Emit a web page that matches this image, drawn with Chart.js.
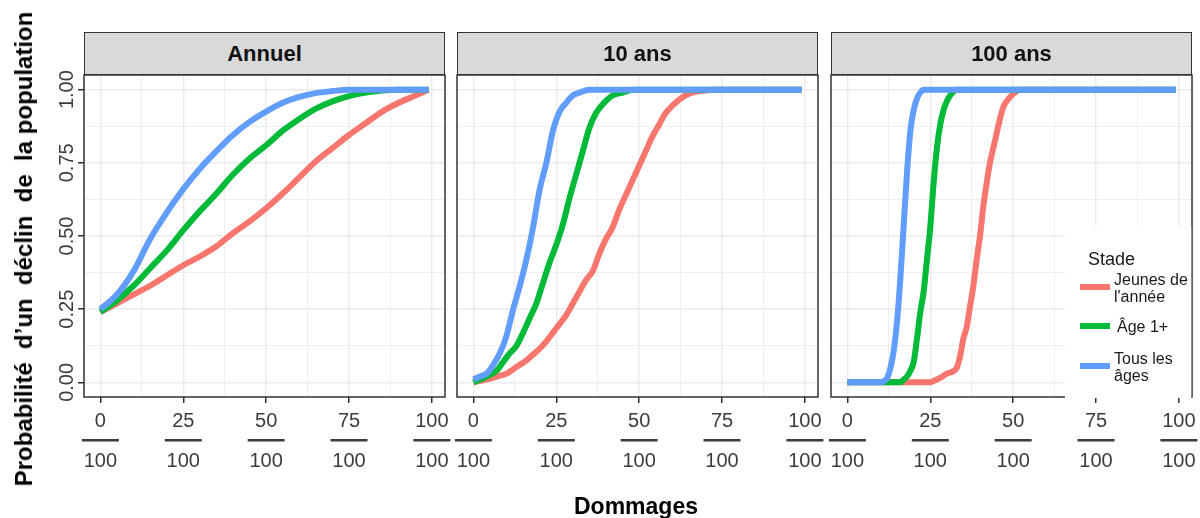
<!DOCTYPE html>
<html>
<head>
<meta charset="utf-8">
<script src="https://cdn.jsdelivr.net/npm/chart.js@4/dist/chart.umd.min.js"></script>
<style>
  html, body { margin: 0; padding: 0; background: #fff; }
  #wrap { position: relative; width: 1200px; height: 518px; overflow: hidden; font-family: "Liberation Sans", Arial, sans-serif; }
  #wrap canvas { position: absolute; left: 0; top: 0; }
  .strip { position: absolute; top: 32px; height: 43px; box-sizing: border-box; background: #d9d9d9; border: 1.5px solid #333; display: flex; align-items: center; justify-content: center; font-weight: bold; font-size: 22px; color: #111; }
  #ytitle { position: absolute; left: 24px; top: 249px; transform: translate(-50%, -50%) rotate(-90deg); font-weight: bold; font-size: 24px; white-space: pre; color: #000; }
  #xtitle { position: absolute; left: 636px; top: 495px; transform: translateX(-50%); line-height: 23px; font-weight: bold; font-size: 23px; color: #000; }
</style>
</head>
<body>
<div id="wrap">
  <canvas id="panel0" width="1200" height="518"></canvas>
  <canvas id="panel1" width="1200" height="518"></canvas>
  <canvas id="panel2" width="1200" height="518"></canvas>
  <div id="ytitle">Probabilité  d’un  déclin  de  la population</div>
  <div id="xtitle">Dommages</div>
</div>
<script>
// facets and legend
const panelTitles = ['Annuel', '10 ans', '100 ans'];
const stageLabels = [['Jeunes de', "l'année"], ['Âge 1+'], ['Tous les', 'âges']];
const stageColours = ['#F8766D', '#00BA38', '#619CFF'];

// axis ticks
const xTickValues = [0, 25, 50, 75, 100];
const xDenominator = 100;
const yTickValues = [0, 0.25, 0.5, 0.75, 1];
const yTickLabels = ['0.00', '0.25', '0.50', '0.75', '1.00'];

// Annuel
const annualX = [0, 5, 10, 15, 20, 25, 30, 35, 40, 45, 50, 55, 60, 65, 70, 75, 80, 85, 90, 95, 99];
const annualYoung = [0.24, 0.27, 0.30, 0.33, 0.365, 0.40, 0.43, 0.465, 0.51, 0.55, 0.595, 0.645, 0.70, 0.755, 0.80, 0.845, 0.885, 0.925, 0.955, 0.98, 1.0];
const annualAge1 = [0.24, 0.28, 0.33, 0.39, 0.45, 0.52, 0.585, 0.645, 0.71, 0.765, 0.81, 0.86, 0.90, 0.935, 0.96, 0.978, 0.99, 0.997, 1, 1, 1];
const annualAll = [0.25, 0.30, 0.38, 0.49, 0.58, 0.66, 0.73, 0.79, 0.845, 0.89, 0.925, 0.955, 0.975, 0.988, 0.995, 1, 1, 1, 1, 1, 1];

// 10 ans
const tenYoungX = [0, 4, 7, 10, 12, 14, 16, 18, 20, 22, 24, 26, 28, 30, 32, 34, 36, 38, 40, 42, 44, 46, 48, 50, 52, 54, 56, 58, 60, 62, 64, 66, 70, 73, 99];
const tenYoung = [0, 0.01, 0.02, 0.03, 0.045, 0.06, 0.075, 0.095, 0.115, 0.14, 0.17, 0.20, 0.23, 0.27, 0.31, 0.35, 0.38, 0.44, 0.49, 0.53, 0.59, 0.64, 0.69, 0.74, 0.79, 0.84, 0.88, 0.92, 0.945, 0.965, 0.98, 0.99, 0.997, 1, 1];
const tenAge1X = [0, 4, 7, 9, 11, 13, 15, 17, 19, 21, 23, 25, 27, 29, 31, 33, 35, 37, 39, 42, 45, 48, 99];
const tenAge1 = [0, 0.02, 0.04, 0.07, 0.10, 0.125, 0.17, 0.22, 0.27, 0.34, 0.41, 0.47, 0.54, 0.63, 0.71, 0.79, 0.87, 0.92, 0.95, 0.98, 0.99, 1, 1];
const tenAllX = [0, 2, 4, 6, 8, 10, 12, 14, 16, 18, 20, 22, 24, 26, 28, 30, 32, 35, 99];
const tenAll = [0.01, 0.02, 0.03, 0.06, 0.10, 0.16, 0.25, 0.33, 0.42, 0.53, 0.66, 0.75, 0.86, 0.925, 0.955, 0.98, 0.99, 1, 1];

// 100 ans
const hundredYoungX = [0, 25, 26, 28, 30, 33, 34, 35, 36, 37, 38, 39, 40, 41, 42, 43, 44, 45, 46, 47, 48, 50, 52, 99];
const hundredYoung = [0, 0, 0.005, 0.015, 0.03, 0.05, 0.09, 0.15, 0.19, 0.26, 0.33, 0.42, 0.50, 0.60, 0.68, 0.75, 0.80, 0.85, 0.90, 0.94, 0.96, 0.985, 1, 1];
const hundredAge1X = [0, 16, 17, 18, 19, 20, 21, 22, 23, 24, 25, 26, 27, 28, 29, 30, 31, 33, 99];
const hundredAge1 = [0, 0, 0.01, 0.02, 0.04, 0.07, 0.15, 0.24, 0.31, 0.42, 0.53, 0.68, 0.80, 0.88, 0.93, 0.96, 0.98, 1, 1];
const hundredAllX = [0, 10, 11, 12, 13, 14, 15, 16, 17, 18, 19, 20, 21, 22, 23, 99];
const hundredAll = [0, 0, 0.005, 0.015, 0.05, 0.11, 0.21, 0.36, 0.54, 0.72, 0.86, 0.93, 0.97, 0.99, 1, 1];

const panelSeries = [
  [[annualX, annualYoung], [annualX, annualAge1], [annualX, annualAll]],
  [[tenYoungX, tenYoung], [tenAge1X, tenAge1], [tenAllX, tenAll]],
  [[hundredYoungX, hundredYoung], [hundredAge1X, hundredAge1], [hundredAllX, hundredAll]]
];

// layout (px)
const PANEL_LEFT = [84, 457, 831];
const PANEL_WIDTH = 361;
const PANEL_TOP = 75;
const PANEL_BOTTOM = 397;
const FONT = '"Liberation Sans", Arial, sans-serif';
const TICK_COLOUR = '#3c3c3c';
const GRID_COLOUR = '#ebebeb';

const xGrid = [0, 12.5, 25, 37.5, 50, 62.5, 75, 87.5, 100];
const yGrid = [0, 0.125, 0.25, 0.375, 0.5, 0.625, 0.75, 0.875, 1];
const isMajor = (v, step) => Math.abs(v / step - Math.round(v / step)) < 1e-6;

const panelDecor = {
  id: 'panelDecor',
  afterDraw(chart, args, opts) {
    const { ctx, chartArea: a } = chart;
    const { x, y } = chart.scales;
    ctx.save();
    ctx.strokeStyle = '#333333';
    ctx.lineWidth = 1.5;
    ctx.strokeRect(a.left, a.top, a.right - a.left, a.bottom - a.top);

    ctx.fillStyle = TICK_COLOUR;
    ctx.font = `20px ${FONT}`;
    ctx.textAlign = 'center';
    ctx.textBaseline = 'alphabetic';
    xTickValues.forEach((v) => {
      const px = x.getPixelForValue(v);
      ctx.fillText(String(v), px, a.bottom + 30);
      ctx.fillRect(px - 18.5, a.bottom + 42, 37, 2.5);
      ctx.fillText(String(xDenominator), px, a.bottom + 70);
    });

    if (opts.yLabels) {
      yTickValues.forEach((v, i) => {
        ctx.save();
        ctx.translate(a.left - 11, y.getPixelForValue(v));
        ctx.rotate(-Math.PI / 2);
        ctx.fillText(yTickLabels[i], 0, 0);
        ctx.restore();
      });
    }

    if (opts.legend) {
      const left = a.right - 127;
      const top = a.top + 151;
      ctx.fillStyle = '#ffffff';
      ctx.fillRect(left, top, a.right - 0.75 - left, a.bottom + 1 - top);
      ctx.textAlign = 'left';
      ctx.fillStyle = '#1a1a1a';
      ctx.font = `18px ${FONT}`;
      ctx.fillText('Stade', left + 23, top + 39);
      ctx.font = `16px ${FONT}`;
      const keyY = [61, 100, 140];
      chart.data.datasets.forEach((ds, i) => {
        const cy = top + keyY[i];
        ctx.strokeStyle = ds.borderColor;
        ctx.lineWidth = 6;
        ctx.beginPath();
        ctx.moveTo(left + 15, cy);
        ctx.lineTo(left + 45, cy);
        ctx.stroke();
        const lines = stageLabels[i];
        const first = cy + 6 - (lines.length - 1) * 8.5;
        lines.forEach((t, j) => ctx.fillText(t, left + (lines.length > 1 ? 49 : 52), first + j * 17));
      });
    }
    ctx.restore();
  }
};

function makePanel(index) {
  const left = PANEL_LEFT[index];
  const yWidth = index === 0 ? left : 0;
  const datasets = panelSeries[index].map(([xs, ys], i) => ({
    label: stageLabels[i].join(' '),
    data: xs.map((v, k) => ({ x: v, y: ys[k] })),
    borderColor: stageColours[i],
    borderWidth: 6,
    pointRadius: 0,
    cubicInterpolationMode: 'monotone',
    fill: false,
    order: 2 - i
  }));

  return new Chart(document.getElementById(`panel${index}`), {
    type: 'line',
    data: { datasets },
    options: {
      responsive: false,
      animation: false,
      events: [],
      layout: { padding: { left: index === 0 ? 0 : left, right: 1200 - left - PANEL_WIDTH, top: PANEL_TOP, bottom: 0 } },
      plugins: {
        legend: { display: false },
        tooltip: { enabled: false },
        panelDecor: { yLabels: index === 0, legend: index === 2 }
      },
      scales: {
        x: {
          type: 'linear',
          min: -4.95,
          max: 103.95,
          afterBuildTicks: (s) => { s.ticks = xGrid.map((v) => ({ value: v })); },
          afterFit: (s) => { s.height = 518 - PANEL_BOTTOM; },
          ticks: { display: false },
          border: { display: false },
          grid: {
            color: GRID_COLOUR,
            lineWidth: (c) => (isMajor(c.tick.value, 25) ? 1.5 : 0.8),
            drawTicks: true,
            tickLength: 6,
            tickWidth: 1.5,
            tickColor: (c) => (isMajor(c.tick.value, 25) ? '#333333' : 'rgba(0,0,0,0)')
          }
        },
        y: {
          type: 'linear',
          min: -0.05,
          max: 1.05,
          afterBuildTicks: (s) => { s.ticks = yGrid.map((v) => ({ value: v })); },
          afterFit: (s) => { s.width = yWidth; },
          ticks: { display: false },
          border: { display: false },
          grid: {
            color: GRID_COLOUR,
            lineWidth: (c) => (isMajor(c.tick.value, 0.25) ? 1.5 : 0.8),
            drawTicks: index === 0,
            tickLength: 6,
            tickWidth: 1.5,
            tickColor: (c) => (isMajor(c.tick.value, 0.25) ? '#333333' : 'rgba(0,0,0,0)')
          }
        }
      }
    },
    plugins: [panelDecor]
  });
}

const wrap = document.getElementById('wrap');
panelTitles.forEach((title, i) => {
  const strip = document.createElement('div');
  strip.className = 'strip';
  strip.style.left = `${PANEL_LEFT[i]}px`;
  strip.style.width = `${PANEL_WIDTH}px`;
  strip.textContent = title;
  wrap.appendChild(strip);
  makePanel(i);
});
</script>
</body>
</html>
